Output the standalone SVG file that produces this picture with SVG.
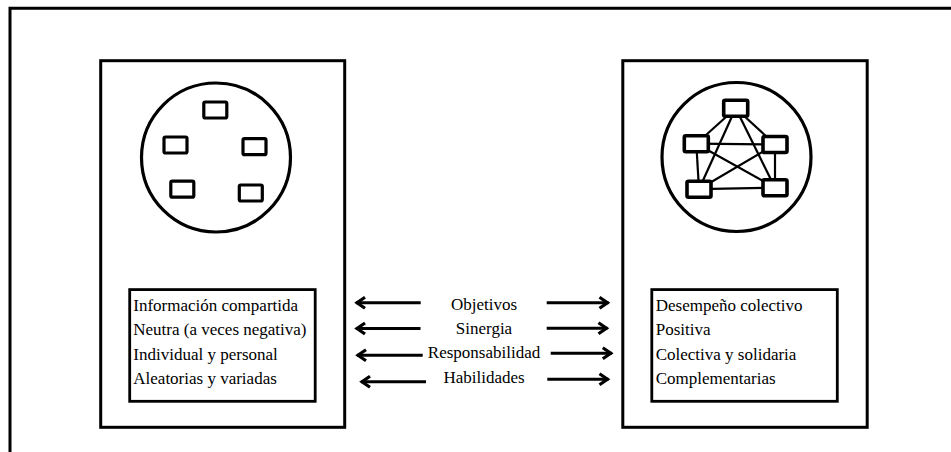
<svg xmlns="http://www.w3.org/2000/svg" width="951" height="452" viewBox="0 0 951 452">
  <style>
    .frame { fill: none; stroke: #000; stroke-width: 3; }
    .panel { fill: #fff; stroke: #000; stroke-width: 3; }
    .list { fill: #fff; stroke: #000; stroke-width: 2.8; }
    .ring { fill: #fff; stroke: #000; stroke-width: 3.2; }
    .member { fill: #fff; stroke: #000; stroke-width: 3.2; }
    .member-b { fill: #fff; stroke: #000; stroke-width: 3.6; }
    .link { stroke: #000; stroke-width: 2.2; }
    .arrow { stroke: #000; stroke-width: 3; fill: none; marker-end: url(#head); }
    .mid { text-anchor: middle; }
  </style>
  <defs>
    <marker id="head" viewBox="-12 -8 14 16" refX="0" refY="0" markerWidth="14" markerHeight="16" markerUnits="userSpaceOnUse" orient="auto">
      <path d="M -9 -5.5 L -1 0 L -9 5.5" fill="none" stroke="#000" stroke-width="3.2" stroke-linejoin="miter"/>
    </marker>
  </defs>

  <!-- page frame (top and left edges) -->
  <path class="frame" d="M 10 452 L 10 8.3 L 951 8.3"/>

  <g font-family="'Liberation Serif', 'Times New Roman', Tinos, serif" font-size="17" fill="#000">
  <!-- left panel: group of individuals -->
  <g id="grupo">
    <rect class="panel" x="100.7" y="60.7" width="244" height="366.6"/>
    <circle class="ring" cx="216" cy="157.5" r="74.5"/>
    <rect class="member" x="203.8" y="102" width="23" height="16" rx="1.5"/>
    <rect class="member" x="164" y="137" width="23" height="16" rx="1.5"/>
    <rect class="member" x="243" y="138.7" width="23" height="16" rx="1.5"/>
    <rect class="member" x="170.8" y="181.2" width="23" height="16" rx="1.5"/>
    <rect class="member" x="239.3" y="185" width="23" height="16" rx="1.5"/>
    <rect class="list" x="129.7" y="289.6" width="185.5" height="111.7"/>
    <text x="133.3" y="310.5">Información compartida</text>
    <text x="133.3" y="335">Neutra (a veces negativa)</text>
    <text x="133.3" y="359.5">Individual y personal</text>
    <text x="133.3" y="384">Aleatorias y variadas</text>
  </g>

  <!-- right panel: connected team -->
  <g id="equipo">
    <rect class="panel" x="622.8" y="60.7" width="244.4" height="366.6"/>
    <circle class="ring" cx="736.5" cy="157" r="74.5"/>
    <g id="enlaces">
      <line class="link" x1="735.7" y1="108.3" x2="696.3" y2="143.7"/>
      <line class="link" x1="735.7" y1="108.3" x2="775" y2="144.5"/>
      <line class="link" x1="735.7" y1="108.3" x2="699" y2="189.2"/>
      <line class="link" x1="735.7" y1="108.3" x2="775" y2="187.7"/>
      <line class="link" x1="696.3" y1="143.7" x2="775" y2="144.5"/>
      <line class="link" x1="696.3" y1="143.7" x2="699" y2="189.2"/>
      <line class="link" x1="696.3" y1="143.7" x2="775" y2="187.7"/>
      <line class="link" x1="775" y1="144.5" x2="699" y2="189.2"/>
      <line class="link" x1="775" y1="144.5" x2="775" y2="187.7"/>
      <line class="link" x1="699" y1="189.2" x2="775" y2="187.7"/>
    </g>
    <rect class="member-b" x="723.7" y="100.3" width="24" height="16" rx="1.5"/>
    <rect class="member-b" x="684.3" y="135.7" width="24" height="16" rx="1.5"/>
    <rect class="member-b" x="763" y="136.5" width="24" height="16" rx="1.5"/>
    <rect class="member-b" x="687" y="181.2" width="24" height="16" rx="1.5"/>
    <rect class="member-b" x="763" y="179.7" width="24" height="16" rx="1.5"/>
    <rect class="list" x="651.8" y="289.6" width="185.5" height="111.7"/>
    <text x="655.7" y="310.5">Desempeño colectivo</text>
    <text x="655.7" y="335">Positiva</text>
    <text x="655.7" y="359.5">Colectiva y solidaria</text>
    <text x="655.7" y="384">Complementarias</text>
  </g>

  <!-- comparison labels -->
  <g id="criterios">
    <text class="mid" x="484" y="309.5">Objetivos</text>
    <text class="mid" x="484" y="333.5">Sinergia</text>
    <text class="mid" x="484" y="358">Responsabilidad</text>
    <text class="mid" x="484" y="383">Habilidades</text>
  </g>
  </g>

  <!-- arrows pointing to each panel -->
  <g id="flechas">
    <line class="arrow" x1="420.7" y1="302.7" x2="356" y2="302.7"/>
    <line class="arrow" x1="420.5" y1="328.5" x2="356" y2="328.5"/>
    <line class="arrow" x1="422.7" y1="355.3" x2="357" y2="355.3"/>
    <line class="arrow" x1="426" y1="381.7" x2="361" y2="381.7"/>
    <line class="arrow" x1="546.7" y1="302.7" x2="608.5" y2="302.7"/>
    <line class="arrow" x1="546.7" y1="328.3" x2="607.5" y2="328.3"/>
    <line class="arrow" x1="550.7" y1="353.3" x2="611.8" y2="353.3"/>
    <line class="arrow" x1="547.3" y1="379.3" x2="608.5" y2="379.3"/>
  </g>
</svg>
